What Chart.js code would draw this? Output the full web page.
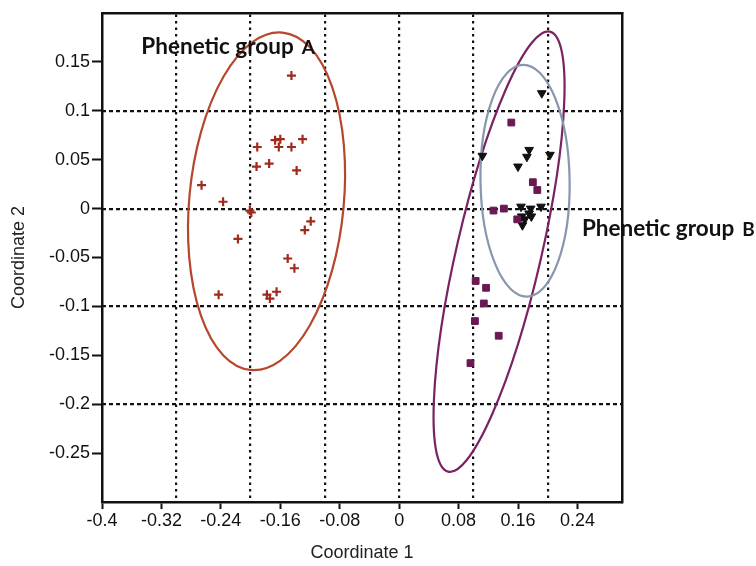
<!DOCTYPE html>
<html><head><meta charset="utf-8">
<script src="https://cdn.jsdelivr.net/npm/chart.js@4.4.1/dist/chart.umd.min.js"></script>
<style>html,body{margin:0;padding:0;background:#fff;}#wrap{width:756px;height:566px;}</style>
</head><body><div id="wrap"><canvas id="c" width="756" height="566"></canvas></div>
<script>
// ---- data ----
const xTickLabels = [-0.4, -0.32, -0.24, -0.16, -0.08, 0, 0.08, 0.16, 0.24];
const yTickLabels = [-0.25, -0.2, -0.15, -0.1, -0.05, 0, 0.05, 0.1, 0.15];
const xGridValues = [-0.3, -0.2, -0.1, 0, 0.1, 0.2];
const yGridValues = [-0.2, -0.1, 0, 0.1];

const groupAX = [-0.145,-0.130,-0.167,-0.160,-0.162,-0.145,-0.191,-0.175,-0.192,-0.138,-0.266,-0.237,-0.201,-0.199,-0.119,-0.127,-0.217,-0.150,-0.141,-0.243,-0.165,-0.178,-0.174];
const groupAY = [0.136,0.071,0.070,0.071,0.063,0.063,0.063,0.046,0.043,0.039,0.024,0.007,-0.002,-0.004,-0.013,-0.022,-0.031,-0.051,-0.061,-0.088,-0.085,-0.088,-0.092];

const squaresX = [0.151,0.180,0.186,0.127,0.141,0.159,0.103,0.117,0.114,0.102,0.134,0.096];
const squaresY = [0.088,0.027,0.019,-0.002,0.000,-0.011,-0.074,-0.081,-0.097,-0.115,-0.130,-0.158];

const trianglesX = [0.192,0.112,0.175,0.172,0.203,0.160,0.164,0.177,0.191,0.175,0.165,0.169,0.166,0.178];
const trianglesY = [0.118,0.054,0.060,0.053,0.055,0.043,0.002,0.000,0.002,-0.005,-0.008,-0.011,-0.017,-0.008];

// ellipses: ends of major axis (data units) and half width of minor axis (x units)
const ellipseTopX    = [-0.157, 0.203, 0.167];
const ellipseTopY    = [0.180, 0.181, 0.147];
const ellipseBottomX = [-0.200, 0.066, 0.172];
const ellipseBottomY = [-0.165, -0.269, -0.090];
const ellipseHalfW   = [0.104, 0.057, 0.060];
const ellipseColors  = ['#b5472c', '#7a2262', '#8797ad'];

const labelTexts = ['Phenetic group', 'Phenetic group'];
const labelLetters = ['A', 'B'];
const labelX = [-0.347, 0.246];
const labelY = [0.166, -0.020];

const toPts = (xs, ys) => xs.map((x, i) => ({x, y: ys[i]}));
const FONT = '"Liberation Sans", Arial, sans-serif';

const ellipsePlugin = {
  id: 'ellipses',
  beforeDatasetsDraw(chart) {
    const {ctx, scales: {x, y}} = chart;
    const ppx = Math.abs(x.getPixelForValue(1) - x.getPixelForValue(0));
    for (let i = 0; i < ellipseTopX.length; i++) {
      const x1 = x.getPixelForValue(ellipseTopX[i]), y1 = y.getPixelForValue(ellipseTopY[i]);
      const x2 = x.getPixelForValue(ellipseBottomX[i]), y2 = y.getPixelForValue(ellipseBottomY[i]);
      const cx = (x1 + x2) / 2, cy = (y1 + y2) / 2;
      const a = Math.hypot(x2 - x1, y2 - y1) / 2;
      const ang = Math.atan2(y2 - y1, x2 - x1);
      const b = ellipseHalfW[i] * ppx;
      ctx.save();
      ctx.strokeStyle = ellipseColors[i];
      ctx.lineWidth = 2.2;
      ctx.beginPath();
      ctx.ellipse(cx, cy, a, b, ang, 0, Math.PI * 2);
      ctx.stroke();
      ctx.restore();
    }
  }
};

const labelPlugin = {
  id: 'labels',
  afterDraw(chart) {
    const {ctx, scales: {x, y}} = chart;
    ctx.save();
    ctx.fillStyle = '#111';
    ctx.textBaseline = 'alphabetic';
    for (let i = 0; i < labelTexts.length; i++) {
      const px = x.getPixelForValue(labelX[i]), py = y.getPixelForValue(labelY[i]);
      ctx.font = 'bold 22.5px Lato, "Open Sans", sans-serif';
      ctx.textAlign = 'left';
      ctx.fillText(labelTexts[i], px, py + 8);
      const w = ctx.measureText(labelTexts[i]).width;
      ctx.font = 'bold 19px Lato, "Open Sans", sans-serif';
      ctx.fillText(labelLetters[i], px + w + 8, py + 8);
    }
    ctx.restore();
  }
};

new Chart(document.getElementById('c'), {
  type: 'scatter',
  data: {
    datasets: [
      {data: toPts(groupAX, groupAY), pointStyle: 'cross', pointRadius: 4.5, borderColor: '#a02a1c', borderWidth: 2.2, backgroundColor: '#a02a1c'},
      {data: toPts(squaresX, squaresY), pointStyle: 'rect', pointRadius: 4.8, borderColor: '#6a1a52', borderWidth: 1, backgroundColor: '#6a1a52'},
      {data: toPts(trianglesX, trianglesY), pointStyle: 'triangle', rotation: 180, pointRadius: 5, borderColor: '#111', borderWidth: 1, backgroundColor: '#111'}
    ]
  },
  options: {
    responsive: false,
    animation: false,
    devicePixelRatio: 1,
    layout: {padding: {top: 13, right: 134, bottom: 0, left: 0}},
    plugins: {legend: {display: false}, tooltip: {enabled: false}},
    elements: {point: {hoverRadius: 4}},
    scales: {
      x: {
        type: 'linear', position: 'bottom', min: -0.4, max: 0.3,
        afterBuildTicks: s => { s.ticks = xTickLabels.map(v => ({value: v})); },
        afterFit: s => { s.height = 64; },
        ticks: {font: {size: 18, family: FONT}, color: '#111', padding: 1, maxRotation: 0, autoSkip: false, callback: v => String(v)},
        grid: {drawOnChartArea: false, drawTicks: true, tickLength: 7, tickWidth: 2, tickColor: '#111'},
        border: {display: true, color: '#111', width: 2.5},
        title: {display: true, text: 'Coordinate 1', font: {size: 18, family: FONT}, color: '#222', padding: {top: 0, bottom: 2}}
      },
      y: {
        type: 'linear', position: 'left', min: -0.3, max: 0.2,
        afterBuildTicks: s => { s.ticks = yTickLabels.map(v => ({value: v})); },
        afterFit: s => { s.width = 102; },
        ticks: {font: {size: 18, family: FONT}, color: '#111', padding: 2, autoSkip: false, callback: v => String(v)},
        grid: {drawOnChartArea: false, drawTicks: true, tickLength: 10, tickWidth: 2, tickColor: '#111'},
        border: {display: true, color: '#111', width: 2.5},
        title: {display: true, text: 'Coordinate 2', font: {size: 18, family: FONT}, color: '#222', padding: {top: 8, bottom: 0}}
      },
      x2: {
        type: 'linear', position: 'top', min: -0.4, max: 0.3,
        afterBuildTicks: s => { s.ticks = xGridValues.map(v => ({value: v})); },
        afterFit: s => { s.height = 0; },
        ticks: {display: false},
        grid: {drawOnChartArea: true, drawTicks: false, color: '#111', lineWidth: 2.2},
        border: {display: true, color: '#111', width: 2.5, dash: [2.5, 4]}
      },
      y2: {
        type: 'linear', position: 'right', min: -0.3, max: 0.2,
        afterBuildTicks: s => { s.ticks = yGridValues.map(v => ({value: v})); },
        afterFit: s => { s.width = 0; },
        ticks: {display: false},
        grid: {drawOnChartArea: true, drawTicks: false, color: '#111', lineWidth: 2.2},
        border: {display: true, color: '#111', width: 2.5, dash: [4, 3]}
      }
    }
  },
  plugins: [ellipsePlugin, labelPlugin]
});
</script>
</body></html>
